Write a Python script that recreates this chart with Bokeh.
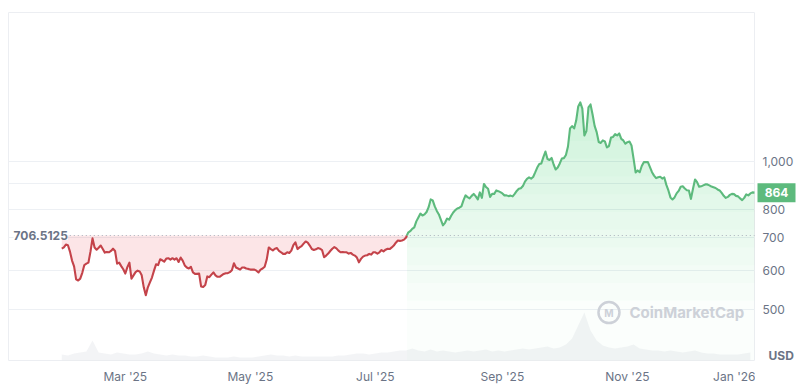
import numpy as np
import pandas as pd
from datetime import datetime
from bokeh.plotting import figure
from bokeh.layouts import row
from bokeh.models import (Range1d, LinearScale, FixedTicker, MonthsTicker, Grid,
                          DatetimeTickFormatter, Label)
from bokeh.core.properties import value
from bokeh.embed import file_html
from bokeh.resources import INLINE

# ---------------- data ----------------
start_date = "2025-01-29"
price = [
    664, 668, 677, 675, 655, 628, 611, 575, 572, 577,
    593, 615, 619, 622, 655, 697, 668, 661, 667, 674,
    663, 652, 654, 653, 657, 664, 657, 619, 622, 612,
    603, 591, 609, 622, 577, 586, 595, 599, 597, 586,
    554, 534, 554, 567, 580, 599, 617, 615, 632, 629,
    625, 634, 635, 631, 635, 631, 635, 624, 637, 628,
    614, 608, 605, 610, 594, 590, 590, 591, 556, 555,
    560, 583, 581, 588, 594, 586, 582, 582, 586, 590,
    592, 592, 595, 600, 620, 608, 605, 602, 608, 608,
    605, 604, 602, 602, 602, 599, 594, 602, 605, 610,
    631, 668, 663, 659, 664, 666, 657, 653, 648, 648,
    653, 651, 658, 675, 684, 663, 668, 672, 680, 687,
    683, 674, 663, 660, 662, 666, 664, 660, 638, 643,
    649, 657, 664, 669, 665, 658, 653, 654, 653, 653,
    649, 651, 646, 643, 637, 623, 633, 640, 643, 644,
    648, 646, 653, 653, 649, 653, 660, 656, 661, 664,
    663, 668, 674, 683, 690, 689, 690, 693, 700, 716,
    721, 729, 734, 755, 769, 783, 776, 780, 789, 807,
    837, 833, 810, 793, 780, 760, 741, 750, 765, 761,
    775, 787, 796, 802, 805, 810, 833, 853, 846, 841,
    851, 859, 849, 837, 865, 843, 900, 887, 880, 847,
    859, 859, 873, 870, 866, 861, 853, 853, 850, 852,
    849, 859, 871, 880, 882, 891, 910, 922, 928, 923,
    930, 950, 972, 988, 991, 1021, 1048, 1012, 1007, 1017,
    986, 963, 972, 991, 1014, 1016, 1031, 1073, 1168, 1181,
    1168, 1212, 1295, 1320, 1282, 1130, 1154, 1289, 1307, 1247,
    1182, 1148, 1096, 1091, 1104, 1099, 1068, 1075, 1119, 1122,
    1137, 1130, 1141, 1112, 1104, 1087, 1095, 1098, 1078, 1014,
    950, 959, 951, 979, 997, 997, 997, 974, 951, 936,
    925, 929, 931, 923, 928, 896, 873, 845, 837, 845,
    861, 871, 888, 890, 881, 874, 873, 839, 880, 919,
    908, 888, 890, 894, 898, 898, 894, 889, 886, 883,
    877, 873, 863, 851, 843, 847, 855, 859, 858, 851,
    849, 841, 834, 843, 857, 853, 861, 865, 864,
]
# relative trading volume, one value per 3 days
volume = [
    6, 5, 7, 8, 9, 20, 8, 7, 6, 8,
    7, 6, 6, 7, 9, 7, 6, 5, 6, 5,
    5, 4, 4, 5, 4, 3, 3, 3, 4, 3,
    3, 3, 4, 5, 6, 5, 5, 4, 5, 4,
    4, 4, 4, 4, 4, 5, 5, 6, 7, 7,
    6, 7, 8, 8, 9, 10, 10, 12, 10, 9,
    11, 9, 10, 9, 8, 9, 10, 9, 10, 11,
    9, 10, 9, 10, 11, 12, 11, 12, 13, 14,
    12, 13, 16, 22, 35, 48, 30, 20, 15, 13,
    12, 13, 14, 16, 12, 11, 10, 10, 9, 10,
    9, 8, 9, 10, 8, 7, 7, 6, 6, 6,
    6, 7, 8,
]
ref_price = 706.5125
last_price = price[-1]
price_ticks = [500, 600, 700, 800, 1000]
grid_ticks = [500, 600, 700, 800, 900, 1000]
x_start = datetime(2025, 1, 3)
x_end = datetime(2026, 1, 2, 12)

# ---------------- styles ----------------
GREEN_LINE = "#5dba7d"
GREEN_FILL = "#34b865"
RED_LINE = "#c4434a"
RED_FILL = "#ea3943"
TXT = "#6b7486"
FONT = "Inter"

dates = pd.date_range(start_date, periods=len(price), freq="D")
vol_dates = pd.date_range(start_date, periods=len(volume), freq="3D")
x = dates.values.astype("datetime64[ms]").astype(np.int64).astype(float)
vx = vol_dates.values.astype("datetime64[ms]").astype(np.int64).astype(float)
y = np.array(price, dtype=float)

def ms(d):
    return float(np.datetime64(d, "ms").astype(np.int64))

y_lo, y_hi = 392.9, 2012.8
FRAME_H = 348
TOP = 12
y_range = Range1d(y_lo, y_hi)

p = figure(frame_width=747, frame_height=FRAME_H, x_axis_type="datetime", y_axis_type="log",
           y_axis_location=None,
           x_range=Range1d(ms(x_start), ms(x_end)), y_range=y_range,
           output_backend="svg", toolbar_location=None,
           min_border_left=8, min_border_right=0, min_border_top=TOP, min_border_bottom=0)
p.background_fill_color = "white"
p.border_fill_color = "white"
p.outline_line_color = "#eceef2"
for g in p.ygrid:
    g.grid_line_color = None
    g.visible = False

p.add_layout(Grid(dimension=1, ticker=FixedTicker(ticks=grid_ticks),
                  grid_line_color="#edf0f4", minor_grid_line_color=None))

# volume
p.extra_y_ranges = {"vol": Range1d(0, max(volume) * FRAME_H / 48)}
p.extra_y_scales = {"vol": LinearScale()}
p.varea(x=vx, y1=np.zeros(len(volume)), y2=np.array(volume, float), y_range_name="vol",
        color="#e4e7ec", alpha=0.45)

# split the series into parts above / below the reference price
segments = []
cx, cy, cab = [x[0]], [y[0]], y[0] >= ref_price
for i in range(1, len(y)):
    ab = y[i] >= ref_price
    if ab != cab:
        t = (np.log(ref_price) - np.log(y[i - 1])) / (np.log(y[i]) - np.log(y[i - 1]))
        xc = x[i - 1] + t * (x[i] - x[i - 1])
        cx.append(xc); cy.append(ref_price)
        segments.append((np.array(cx), np.array(cy), cab))
        cx, cy, cab = [xc, x[i]], [ref_price, y[i]], ab
    else:
        cx.append(x[i]); cy.append(y[i])
segments.append((np.array(cx), np.array(cy), cab))

levels = np.concatenate([[y_lo], np.geomspace(520, 1300, 12)])
for sx, sy, ab in segments:
    if ab:
        for L in levels:
            p.varea(x=sx, y1=np.full(len(sx), L), y2=np.maximum(sy, L),
                    color=GREEN_FILL, alpha=0.02)
    else:
        p.varea(x=sx, y1=sy, y2=np.full(len(sx), ref_price), color=RED_FILL, alpha=0.13)

# reference dotted line
p.line(x=[x[0], x[-1]], y=[ref_price, ref_price], line_color="#aab0bb",
       line_width=1.2, line_dash="1 3")

for sx, sy, ab in segments:
    p.line(x=sx, y=sy, line_color=GREEN_LINE if ab else RED_LINE, line_width=2.1,
           line_join="round")

xa = p.xaxis[0]
xa.ticker = MonthsTicker(months=[0, 2, 4, 6, 8, 10])
xa.formatter = DatetimeTickFormatter(months="%b '%y", days="%b '%y", years="%b '%y")
xa.axis_line_color = None
xa.major_tick_line_color = None
xa.minor_tick_line_color = None
xa.major_tick_out = 0
xa.major_tick_in = 0
xa.minor_tick_out = 0
xa.major_label_standoff = 8
xa.major_label_text_font = FONT
xa.major_label_text_font_size = "12px"
xa.major_label_text_color = TXT
p.xgrid.grid_line_color = None

p.add_layout(Label(x=ms(x_start), y=ref_price, text=str(ref_price), x_offset=5,
                   text_baseline="middle", text_align="left", text_font=FONT,
                   text_font_size="12px", text_font_style="bold", text_color=TXT,
                   background_fill_color="white"))

# watermark
wm_y = 492
p.scatter(x=[ms(datetime(2025, 10, 23))], y=[wm_y], size=21, marker="circle",
          fill_color=None, line_color="#cdd1d8", line_width=2.5)
p.add_layout(Label(x=ms(datetime(2025, 10, 23)), y=wm_y, text="M", text_align="center",
                   text_baseline="middle", text_font=FONT, text_font_size="10px",
                   text_font_style="bold", text_color="#cdd1d8"))
p.add_layout(Label(x=ms(datetime(2025, 11, 2)), y=wm_y, text="CoinMarketCap",
                   text_align="left", text_baseline="middle", text_font=FONT,
                   text_font_size="15px", text_font_style="bold", text_color="#cdd1d8"))

# ---------------- right-hand price scale (same log scale, a little taller) ----------------
SIDE_W = 42
EXTRA = 18
px_per_ln = FRAME_H / np.log(y_hi / y_lo)
side_range = Range1d(y_lo * np.exp(-EXTRA / px_per_ln), y_hi)
s = figure(frame_width=SIDE_W, frame_height=FRAME_H + EXTRA, y_axis_type="log",
           x_range=Range1d(0, SIDE_W), y_range=side_range,
           x_axis_location=None, y_axis_location=None,
           output_backend="svg", toolbar_location=None,
           min_border_left=0, min_border_right=0, min_border_top=TOP, min_border_bottom=0)
s.outline_line_color = None
s.background_fill_color = "white"
s.border_fill_color = "white"
s.xgrid.grid_line_color = None
s.ygrid.grid_line_color = None

s.text(x=[7] * len(price_ticks), y=price_ticks, text=[f"{t:,}" for t in price_ticks],
       text_font=value(FONT), text_font_size="12px", text_color=TXT,
       text_align="left", text_baseline="middle")
s.rect(x=[21], y=[last_price], width=38, height=19, width_units="screen",
       height_units="screen", fill_color=GREEN_LINE, line_color=None)
s.text(x=[21], y=[last_price], text=[str(last_price)], text_font=value(FONT),
       text_font_size="12px", text_font_style="bold", text_color="white",
       text_align="center", text_baseline="middle")
s.text(x=[13], y=[402], text=["USD"], text_font=value(FONT), text_font_size="12px",
       text_font_style="bold", text_color=TXT, text_align="left", text_baseline="middle")

layout = row(p, s, spacing=0)
open("out.html", "w").write(file_html(layout, INLINE))
